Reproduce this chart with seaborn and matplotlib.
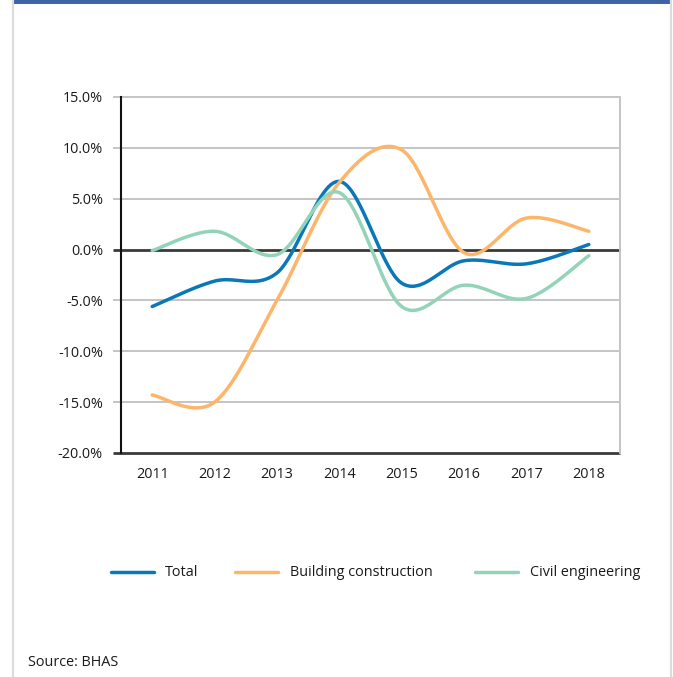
import numpy as np
import pandas as pd
import seaborn as sns
import matplotlib.pyplot as plt
from matplotlib.lines import Line2D
from matplotlib.patches import Rectangle

years = ["2011", "2012", "2013", "2014", "2015", "2016", "2017", "2018"]
total = [-5.6, -3.1, -2.3, 6.7, -3.3, -1.1, -1.4, 0.5]
building = [-14.3, -15.0, -5.0, 6.6, 9.8, -0.3, 3.1, 1.8]
civil = [-0.1, 1.8, -0.5, 5.6, -5.6, -3.5, -4.8, -0.6]

series_names = ["Total", "Building construction", "Civil engineering"]
series_values = [total, building, civil]
colors = ["#0a78b8", "#fdb56b", "#93d4b9"]
yticks = [15, 10, 5, 0, -5, -10, -15, -20]

sns.set_theme(style="white")
plt.rcParams["font.family"] = ["Open Sans", "DejaVu Sans"]
FS = 10.4


def smooth(y, n=40):
    """Bezier smoothing through every point (Catmull-Rom style control points)."""
    y = np.asarray(y, dtype=float)
    x = np.arange(len(y), dtype=float)
    pts = np.column_stack([x, y])
    out = []
    for i in range(len(pts) - 1):
        p0 = pts[i - 1] if i > 0 else pts[i]
        p1 = pts[i]
        p2 = pts[i + 1]
        p3 = pts[i + 2] if i + 2 < len(pts) else pts[i + 1]
        c1 = p1 + (p2 - p0) / 6.0
        c2 = p2 - (p3 - p1) / 6.0
        t = np.linspace(0, 1, n, endpoint=(i == len(pts) - 2))[:, None]
        seg = ((1 - t) ** 3) * p1 + 3 * ((1 - t) ** 2) * t * c1 + 3 * (1 - t) * t ** 2 * c2 + t ** 3 * p2
        out.append(seg)
    return np.vstack(out)


frames = []
for name, vals in zip(series_names, series_values):
    s = smooth(vals)
    frames.append(pd.DataFrame({"x": s[:, 0], "value": s[:, 1], "series": name}))
df = pd.concat(frames, ignore_index=True)

fig = plt.figure(figsize=(6.73, 6.77), dpi=100)
ax = fig.add_axes([121 / 673, 1 - 453 / 677, 499 / 673, 356 / 677])

# gridlines, extended slightly left of the axis as tick marks
for yt in yticks:
    dark = yt in (0, -20)
    ax.plot([-0.017, 1], [yt, yt], transform=ax.get_yaxis_transform(), clip_on=False,
            color="#3a3a3a" if dark else "#c4c4c4", lw=2.0 if dark else 1.4, zorder=1,
            solid_capstyle="butt")

sns.lineplot(data=df, x="x", y="value", hue="series", hue_order=series_names,
             palette=colors, sort=False, estimator=None, lw=2.5, ax=ax, legend=False, zorder=3)

ax.set_xlim(-0.5, 7.5)
ax.set_ylim(-20, 15)
ax.set_xticks(range(len(years)))
ax.set_xticklabels(years)
ax.set_yticks(yticks)
ax.set_yticklabels([f"{v:.1f}%".replace("\u2212", "-") for v in yticks])
ax.set_xlabel("")
ax.set_ylabel("")
ax.tick_params(axis="both", length=0, labelsize=FS, colors="#1a1a1a")
ax.tick_params(axis="y", pad=13)
ax.tick_params(axis="x", pad=10)

for side in ["top", "bottom"]:
    ax.spines[side].set_visible(False)
ax.spines["left"].set_color("#111111")
ax.spines["left"].set_linewidth(1.5)
ax.spines["left"].set_zorder(4)
ax.spines["right"].set_color("#c4c4c4")
ax.spines["right"].set_linewidth(1.4)

# legend: short line sample followed by its label
legend_y = 1 - 572 / 677
line_spans = [(111, 154), (235, 278), (475, 518)]
text_x = [165, 290, 530]
for (x0, x1), tx, c, name in zip(line_spans, text_x, colors, series_names):
    fig.add_artist(Line2D([x0 / 673, x1 / 673], [legend_y, legend_y], transform=fig.transFigure,
                          color=c, lw=2.5))
    fig.text(tx / 673, legend_y, name, fontsize=FS, color="#1a1a1a", va="center", ha="left")

fig.text(28 / 673, 1 - 662 / 677, "Source: BHAS", fontsize=FS, color="#1a1a1a", va="center")

# frame: blue band on top and light side rules
fig.add_artist(Rectangle((13 / 673, 1 - 4 / 677), 657 / 673, 4 / 677, transform=fig.transFigure,
                         color="#3d64a4", lw=0))
fig.add_artist(Line2D([12.5 / 673, 12.5 / 673], [0, 1], transform=fig.transFigure, color="#dcdcdc", lw=1.6))
fig.add_artist(Line2D([670.5 / 673, 670.5 / 673], [0, 1], transform=fig.transFigure, color="#dcdcdc", lw=1.6))

fig.savefig("out.png", dpi=100, facecolor="white")
